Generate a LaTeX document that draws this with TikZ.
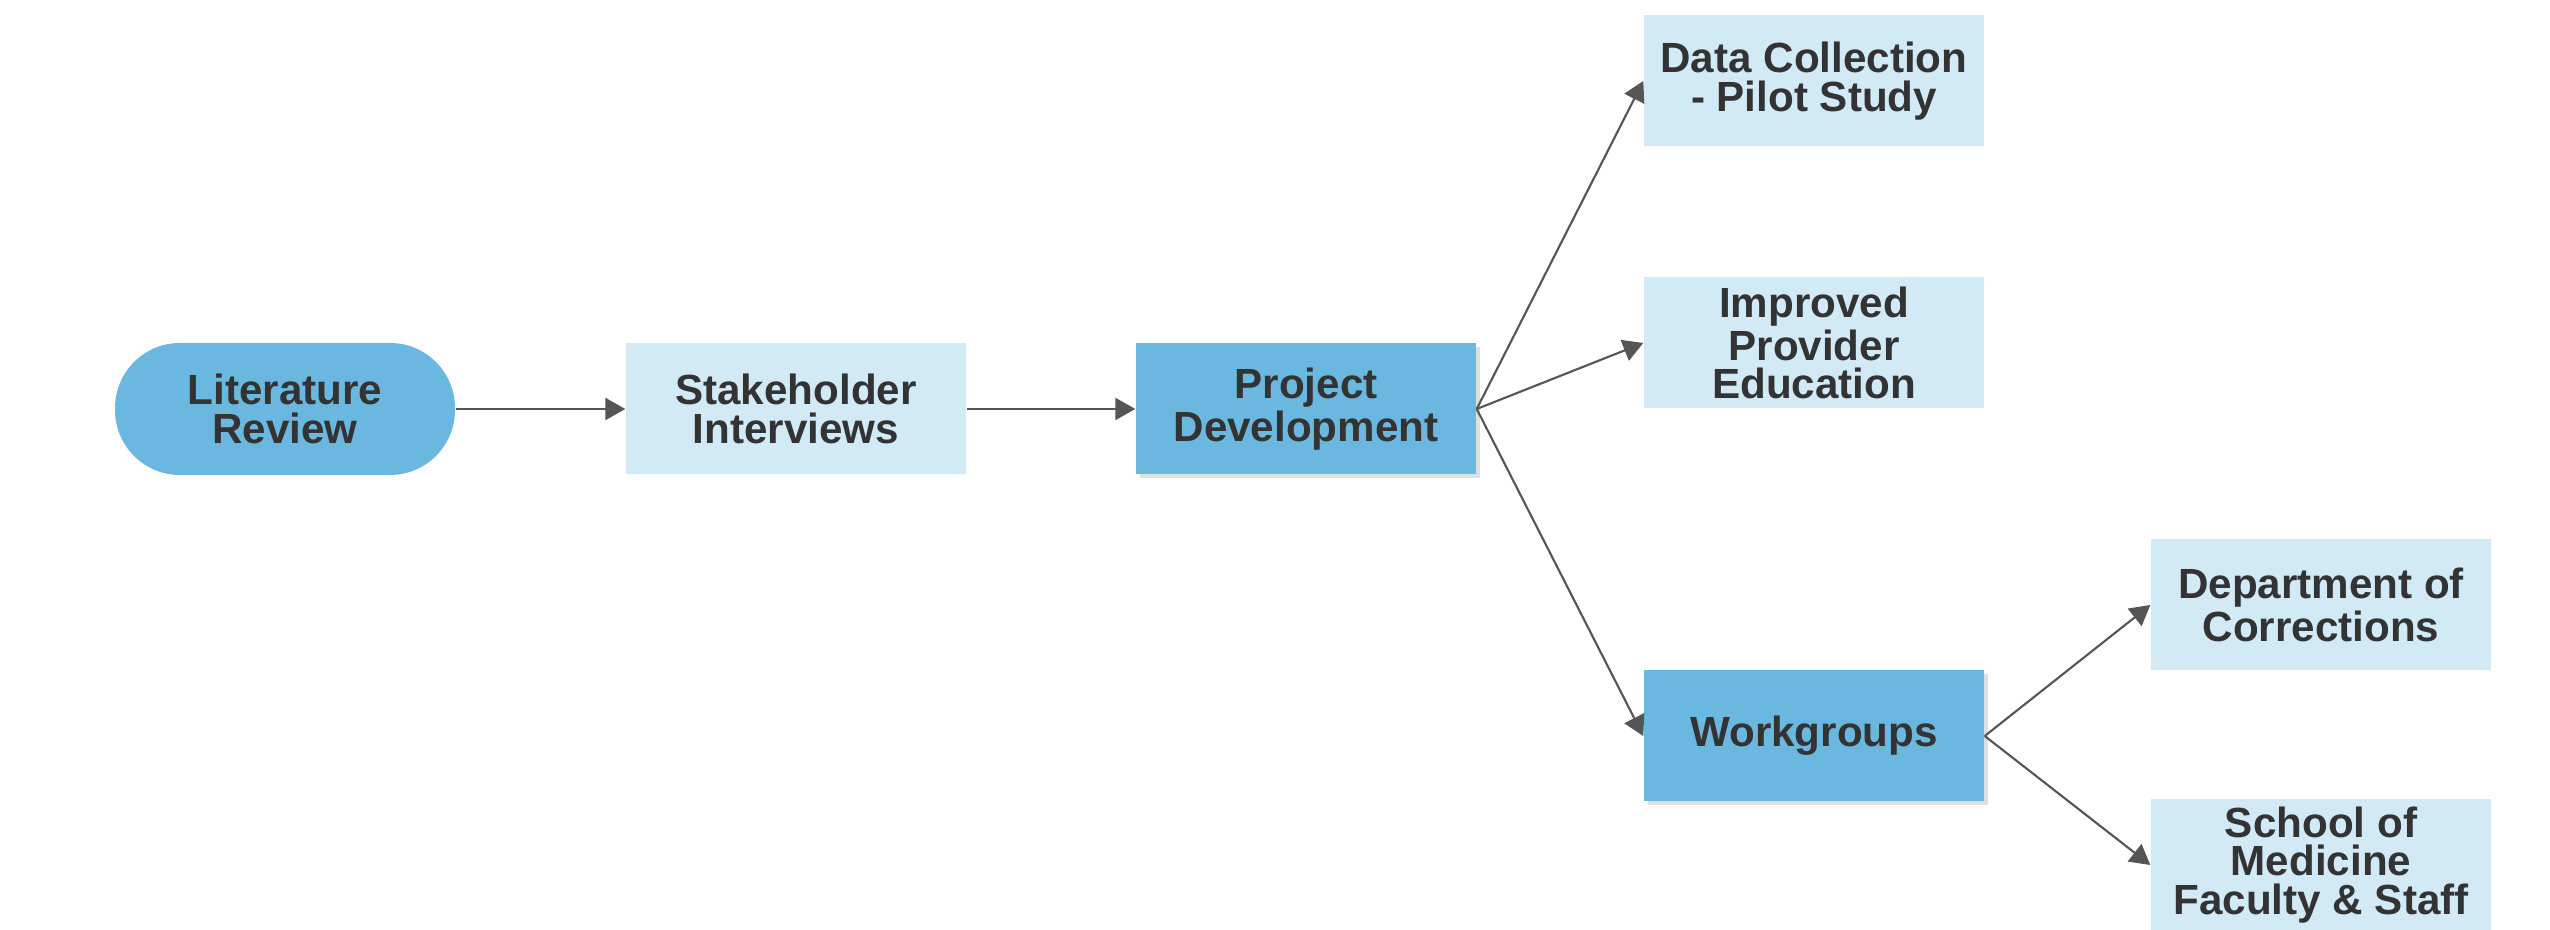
\documentclass[tikz,border=0pt]{standalone}
\usepackage{fontspec}
\setmainfont{Liberation Sans}
\definecolor{stepdark}{RGB}{106,184,224}
\definecolor{steplight}{RGB}{210,233,246}
\definecolor{inkgray}{RGB}{51,51,51}
\definecolor{linegray}{RGB}{85,85,85}
\usetikzlibrary{arrows.meta,shadows}

\begin{document}
\begin{tikzpicture}[font=\fontsize{12}{11}\selectfont\bfseries,
        box/.style={fill=steplight,text=inkgray,minimum width=3.4cm,
                    minimum height=1.31cm,inner sep=1pt,align=center},
        keybox/.style={box,fill=stepdark,
                    drop shadow={shadow xshift=0.04cm,shadow yshift=-0.04cm,opacity=0.25}},
        arr/.style={-{Triangle[length=2mm,width=2.2mm]},line width=0.6pt,linegray}]
        \useasboundingbox (0,0) rectangle (25.5,9.3);
        \node[box,fill=stepdark,rounded corners=0.65cm,minimum height=1.32cm] (lit) at (2.85,5.21) {Literature\\ Review};
        \node[box] (stake) at (7.96,5.21) {Stakeholder\\ Interviews};
        \node[keybox] (proj) at (13.06,5.21) {Project\\ Development};
        \node[box] (data) at (18.14,8.49) {Data Collection\\ - Pilot Study};
        \node[box] (educ) at (18.14,5.87) {Improved\\ Provider\\ Education};
        \node[keybox] (work) at (18.14,1.94) {Workgroups};
        \node[box] (corr) at (23.21,3.25) {Department of\\ Corrections};
        \node[box] (med) at (23.21,0.65) {School of\\ Medicine\\ Faculty \& Staff};
        \draw[arr] (lit) -- (stake);
        \draw[arr] (stake) -- (proj);
        \draw[arr] (proj.east) -- (data.west);
        \draw[arr] (proj.east) -- (educ.west);
        \draw[arr] (proj.east) -- (work.west);
        \draw[arr] (work.east) -- (corr.west);
        \draw[arr] (work.east) -- (med.west);
      \end{tikzpicture}
\end{document}
